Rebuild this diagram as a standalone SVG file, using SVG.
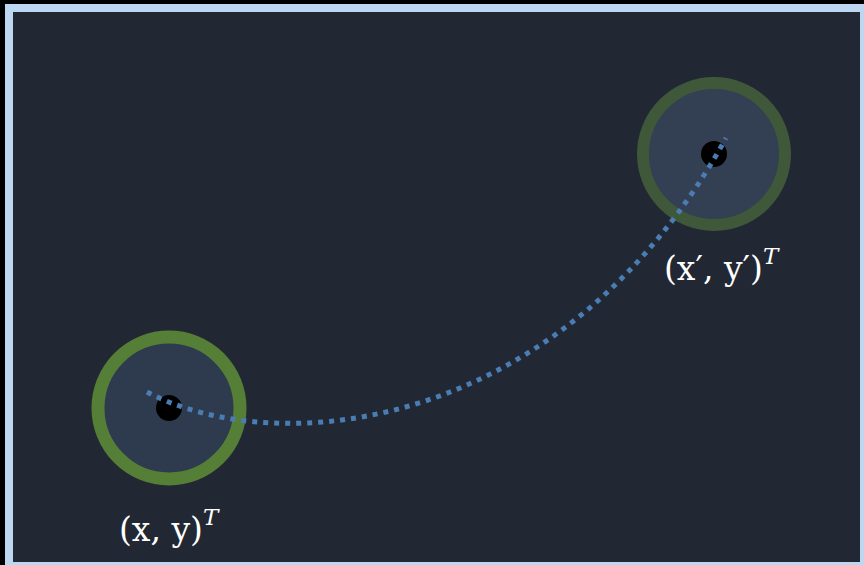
<svg xmlns="http://www.w3.org/2000/svg" width="864" height="565" viewBox="0 0 864 565">
<style>
.lbl{font-family:"DejaVu Serif","Liberation Serif",serif;font-size:33px;fill:#ffffff}
.sup{font-style:italic;font-size:23px}
.edge{fill:none;stroke:#4a7db4;stroke-width:5;stroke-dasharray:5 6}
</style>
<rect x="0" y="0" width="864" height="565" fill="#000000"/>
<rect x="5" y="4" width="859" height="561" fill="#bcd7ef"/>
<rect x="13" y="12" width="847" height="550" fill="#222833"/>
<g id="node-a">
<circle cx="169" cy="408" r="71" fill="#2e3a4d" stroke="#557f36" stroke-width="13"/>
<circle cx="169" cy="408" r="13" fill="#000000"/>
</g>
<g id="node-b">
<circle cx="714" cy="154" r="71" fill="#333f52" stroke="#3f5839" stroke-width="12"/>
<circle cx="714" cy="154" r="13" fill="#000000"/>
</g>
<g id="connectors">
<path class="edge" d="M147,392 C280,462 565,430 726,138"/>
</g>
<text class="lbl" x="119" y="541">(x, y)<tspan class="sup" dy="-16">T</tspan></text>
<text class="lbl" x="664" y="280">(x′, y′)<tspan class="sup" dy="-16">T</tspan></text>
</svg>
